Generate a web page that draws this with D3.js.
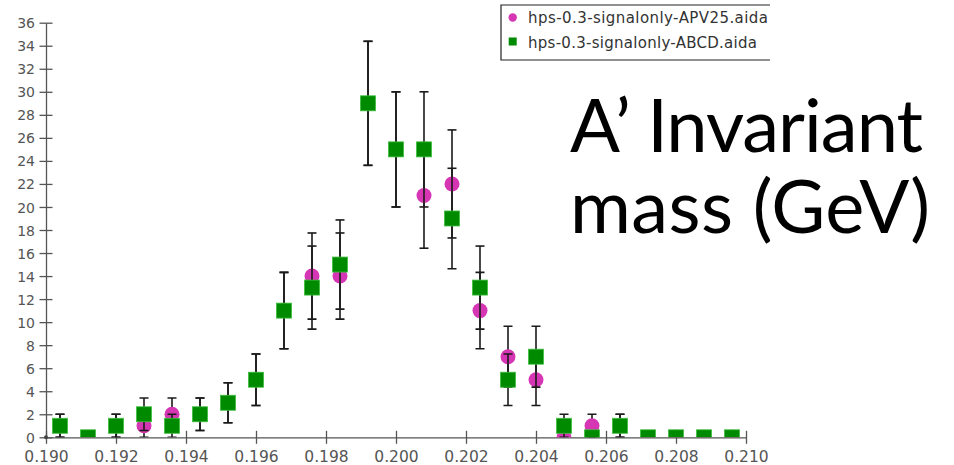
<!DOCTYPE html>
<meta charset="utf-8">
<script src="https://d3js.org/d3.v7.min.js"></script>
<style>
  body { margin: 0; background: #fff; }
</style>
<div id="chart"></div>
<script>
    // bin centres (GeV) and counts
    const binCentres = [0.1904, 0.1912, 0.1920, 0.1928, 0.1936, 0.1944, 0.1952, 0.1960, 0.1968,
        0.1976, 0.1984, 0.1992, 0.2000, 0.2008, 0.2016, 0.2024, 0.2032, 0.2040, 0.2048,
        0.2056, 0.2064, 0.2072, 0.2080, 0.2088, 0.2096];
    const apv25Counts = [1, 0, 1, 1, 2, 2, 3, 5, 11, 14, 14, 29, 25, 21, 22, 11, 7, 5, 0, 1, 1, 0, 0, 0, 0];
    const abcdCounts  = [1, 0, 1, 2, 1, 2, 3, 5, 11, 13, 15, 29, 25, 25, 19, 13, 5, 7, 1, 0, 1, 0, 0, 0, 0];
    const seriesNames = ["hps-0.3-signalonly-APV25.aida", "hps-0.3-signalonly-ABCD.aida"];
    const xTicks = [0.190, 0.192, 0.194, 0.196, 0.198, 0.200, 0.202, 0.204, 0.206, 0.208, 0.210];
    const yTicks = d3.range(0, 37, 2);

    var width = 954, height = 465;
    var pink = "#d636b4", green = "#008a00";

    var svg = d3.select("#chart").append("svg")
        .attr("width", width)
        .attr("height", height)
        .style("font-family", "DejaVu Sans");

    var x = d3.scaleLinear().domain([0.190, 0.210]).range([46, 746]);
    var y = d3.scaleLinear().domain([0, 36]).range([437.3, 22.7]);

    svg.append("defs").append("clipPath").attr("id", "plot")
        .append("rect").attr("x", 0).attr("y", 0).attr("width", width).attr("height", y(0));

    // x axis
    var gx = svg.append("g")
        .attr("transform", "translate(0," + y(0) + ")")
        .call(d3.axisBottom(x).tickValues(xTicks).tickFormat(d3.format(".3f")).tickSizeInner(6.5).tickSizeOuter(0));
    gx.selectAll(".tick line").attr("y1", -6.5);
    gx.selectAll(".tick text").attr("y", 24.5).attr("dy", 0)
        .style("font-size", "15.5px").style("font-family", "DejaVu Sans").attr("fill", "#555");

    // y axis
    var gy = svg.append("g")
        .attr("transform", "translate(" + x(0.190) + ",0)")
        .call(d3.axisLeft(y).tickValues(yTicks).tickSizeInner(6.5).tickSizeOuter(0));
    gy.selectAll(".tick line").attr("x1", 6.5);
    gy.selectAll(".tick text").attr("x", -11).attr("dy", "0.36em")
        .style("font-size", "14px").style("font-family", "DejaVu Sans").attr("fill", "#555");

    svg.selectAll(".domain, .tick line").attr("stroke", "#555").attr("stroke-width", 1.3);
    svg.append("circle").attr("cx", x(0.190)).attr("cy", y(0)).attr("r", 2).attr("fill", "#444");

    var plot = svg.append("g").attr("clip-path", "url(#plot)");

    function errorBars(counts) {
        var data = binCentres.map((c, i) => ({x: c, n: counts[i]})).filter(d => d.n > 0);
        var g = plot.append("g").attr("stroke", "#1a1a1a").attr("stroke-width", 1.6);
        data.forEach(d => {
            var e = Math.sqrt(d.n);
            g.append("line").attr("x1", x(d.x)).attr("x2", x(d.x)).attr("y1", y(d.n - e)).attr("y2", y(d.n + e));
            [d.n - e, d.n + e].forEach(v => {
                g.append("line").attr("x1", x(d.x) - 4.5).attr("x2", x(d.x) + 4.5).attr("y1", y(v)).attr("y2", y(v));
            });
        });
    }

    // APV25 (circles)
    errorBars(apv25Counts);
    plot.append("g").selectAll("circle")
        .data(binCentres.map((c, i) => ({x: c, n: apv25Counts[i]})))
        .enter().append("circle")
        .attr("cx", d => x(d.x))
        .attr("cy", d => y(d.n))
        .attr("r", 7.5)
        .attr("fill", pink);

    // ABCD (squares)
    errorBars(abcdCounts);
    plot.append("g").selectAll("rect")
        .data(binCentres.map((c, i) => ({x: c, n: abcdCounts[i]})))
        .enter().append("rect")
        .attr("x", d => x(d.x) - 7.5)
        .attr("y", d => y(d.n) - 7.5)
        .attr("width", 15)
        .attr("height", 15)
        .attr("fill", green)
        .attr("stroke", "#3fbf3f")
        .attr("stroke-width", 0.8);

    // legend
    var legend = svg.append("g");
    legend.append("path").attr("d", "M770,5H501V60H770").attr("fill", "none").attr("stroke", "#222").attr("stroke-width", 1.2);
    legend.append("circle").attr("cx", 512.7).attr("cy", 17.5).attr("r", 4.2).attr("fill", pink);
    legend.append("rect").attr("x", 508.7).attr("y", 37.5).attr("width", 8).attr("height", 8).attr("fill", green);
    legend.selectAll("text")
        .data(seriesNames)
        .enter().append("text")
        .attr("x", 528)
        .attr("y", (d, i) => 23 + i * 24.5)
        .attr("textLength", (d, i) => i === 0 ? 240 : 229)
        .style("font-size", "15px")
        .attr("fill", "#333")
        .text(d => d);

    // annotation
    var note = svg.append("g").style("font-family", "Lato").style("font-size", "74px").attr("fill", "#000");
    note.append("text").attr("x", 570).attr("y", 152).attr("textLength", 353).text("A\u2019 Invariant");
    note.append("text").attr("x", 570).attr("y", 233).attr("textLength", 360).text("mass (GeV)");
</script>
